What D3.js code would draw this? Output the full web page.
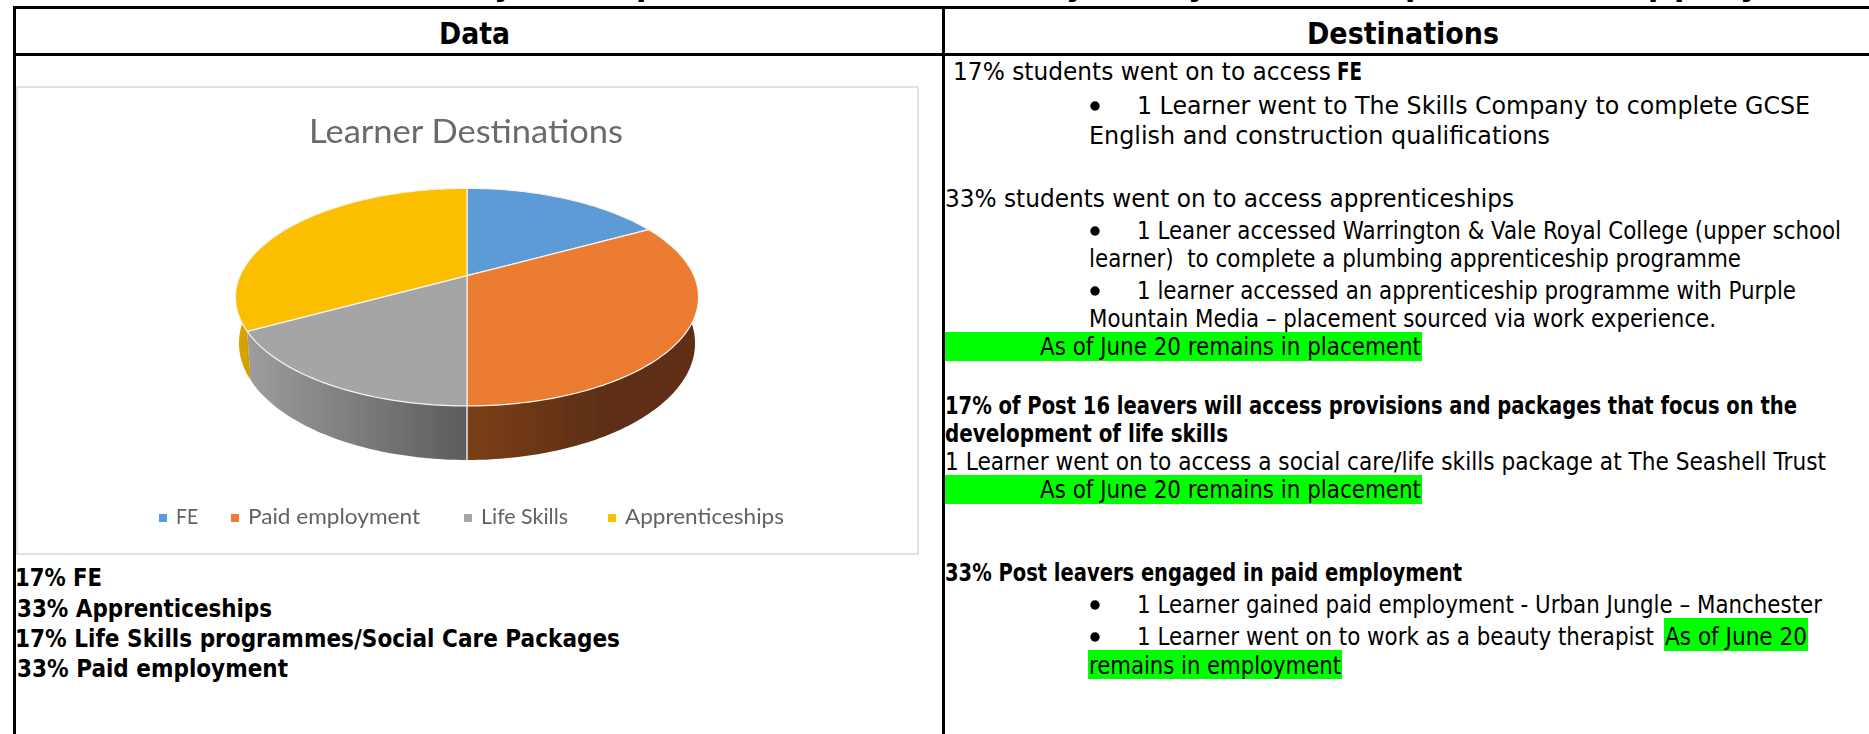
<!DOCTYPE html>
<html>
<head>
<meta charset="utf-8">
<script src="https://cdn.jsdelivr.net/npm/d3@7"></script>
<style>
html, body { margin: 0; padding: 0; background: #fff; overflow: hidden; }
svg { display: block; }
</style>
</head>
<body>
<div id="chart"></div>
<script>
//Width and height
var w = 1869;
var h = 734;

//Dataset
var categories = ["FE", "Paid employment", "Life Skills", "Apprenticeships"];
var values = [17, 33, 17, 33];
var topColors = ["#5b9bd5", "#eb7b31", "#a5a5a5", "#fcbf00"];
var chartTitle = "Learner Destinations";
var headers = ["Data", "Destinations"];
var dataLines = [
  "17% FE",
  "33% Apprenticeships",
  "17% Life Skills programmes/Social Care Packages",
  "33% Paid employment"
];
var clippedLetters = ["y", "p", "y", "y", "p", "p", "p", "y"];
var destLines = [
  "17% students went on to access",
  "FE",
  "1 Learner went to The Skills Company to complete GCSE",
  "English and construction qualifications",
  "33% students went on to access apprenticeships",
  "1 Leaner accessed Warrington & Vale Royal College (upper school",
  "learner)  to complete a plumbing apprenticeship programme",
  "1 learner accessed an apprenticeship programme with Purple",
  "Mountain Media \u2013 placement sourced via work experience.",
  "As of June 20 remains in placement",
  "17% of Post 16 leavers will access provisions and packages that focus on the",
  "development of life skills",
  "1 Learner went on to access a social care/life skills package at The Seashell Trust",
  "As of June 20 remains in placement",
  "33% Post leavers engaged in paid employment",
  "1 Learner gained paid employment - Urban Jungle \u2013 Manchester",
  "1 Learner went on to work as a beauty therapist",
  "As of June 20",
  "remains in employment"
];

//Layout of the text, same order as the lists: x start, x end, baseline, bold
var destLayout = [
  [953, 1331, 80, 0], [1337, 1362, 80, 1],
  [1137, 1810, 113.5, 0], [1089, 1550, 143.5, 0],
  [945, 1514, 207, 0],
  [1137, 1841, 238.5, 0], [1089, 1741, 267, 0],
  [1137, 1796, 298.5, 0], [1089, 1716, 327, 0],
  [1040, 1421, 354.5, 0],
  [945, 1797, 413.5, 1], [945, 1228, 441.5, 1],
  [945, 1826, 469.5, 0],
  [1040, 1421, 497.5, 0],
  [945, 1462, 580.5, 1],
  [1137, 1822, 613, 0],
  [1137, 1654, 644.5, 0], [1665, 1807, 644.5, 0],
  [1089, 1341, 673.5, 0]
];
var dataLayout = [[15, 102, 586], [17, 272, 617], [15, 620, 647], [17, 288, 677]];
var legendLayout = [[159, 176, 198], [231, 248, 420], [464, 481, 568], [608, 625, 784]];
var clippedX = [500, 642, 1072, 1194, 1411, 1654, 1680, 1746];
var greens = [[945, 1422, 332, 361], [945, 1422, 475, 504], [1664, 1808, 618, 651], [1088, 1342, 650, 679]];
var bullets = [[1095, 106], [1095, 231], [1095, 291], [1095, 605], [1095, 637]];

//Create svg
var svg = d3.select("#chart")
  .append("svg")
  .attr("width", w)
  .attr("height", h);

var defs = svg.append("defs");
defs.append("filter").attr("id", "soft")
  .append("feGaussianBlur").attr("stdDeviation", 0.55);

//Stretches a text to the width it has in the picture
function fitText(sel, x0, x1, y, size, family, weight, fill, text) {
  return sel.append("text")
    .attr("x", x0)
    .attr("y", y)
    .attr("textLength", x1 - x0)
    .attr("lengthAdjust", "spacingAndGlyphs")
    .attr("font-size", size)
    .attr("font-family", family)
    .attr("font-weight", weight)
    .attr("fill", fill)
    .style("white-space", "pre")
    .text(text);
}

var bodyFont = "'DejaVu Sans', sans-serif";

//Table rules
svg.append("g").selectAll("rect")
  .data([[13, 6, w - 13, 3], [13, 53, w - 13, 3], [13, 6, 3, h], [942, 6, 3, h]])
  .enter().append("rect")
  .attr("x", function(d) { return d[0]; })
  .attr("y", function(d) { return d[1]; })
  .attr("width", function(d) { return d[2]; })
  .attr("height", function(d) { return d[3]; })
  .attr("fill", "#000");

//Bits of the title that is cut off above the table
var clipped = svg.append("g");
clippedLetters.forEach(function(t, i) {
  clipped.append("text")
    .attr("x", clippedX[i] - 6)
    .attr("y", -4.5)
    .attr("font-size", 30)
    .attr("font-weight", "bold")
    .attr("font-family", bodyFont)
    .attr("fill", "#000")
    .text(t);
});

//Headers
fitText(svg, 439, 510, 43.5, 30, bodyFont, "bold", "#000", headers[0]);
fitText(svg, 1307, 1499, 43.5, 30, bodyFont, "bold", "#000", headers[1]);

//Chart box
svg.append("rect")
  .attr("x", 16).attr("y", 86)
  .attr("width", 903).attr("height", 469)
  .attr("fill", "#e2e2e2");
svg.append("rect")
  .attr("x", 18).attr("y", 88)
  .attr("width", 899).attr("height", 465)
  .attr("fill", "#fff");

var chart = svg.append("g").attr("filter", "url(#soft)");

fitText(chart, 309, 623, 143, 32, "Lato, sans-serif", "normal", "#6a6a6a", chartTitle);

//Pie angles
var pie = d3.pie().sort(null).value(function(d) { return d; });
var arcs = pie(values);

//Perspective of the tilted pie
var cx = 467, apexY = 275.7;
var persp = 0.197, rimX = 227, rimY = 104.6;
var wallScaleX = 0.985, wallScaleY = 1.072, wallDrop = 44.6;

function project(a) {
  var X = Math.sin(a), Y = -Math.cos(a);
  var k = 1 - persp * Y;
  return [rimX * X / k, rimY * Y / k];
}
function topPoint(a) {
  var p = project(a);
  return [cx + p[0], apexY + p[1]];
}
function wallPoint(a) {
  var p = project(a);
  return [cx + p[0] * wallScaleX, apexY + p[1] * wallScaleY + wallDrop];
}
function sweep(a0, a1) {
  var n = Math.max(2, Math.ceil((a1 - a0) / 0.02));
  return d3.range(n + 1).map(function(i) { return a0 + (a1 - a0) * i / n; });
}
var line = d3.line();

//Wall shading
var wallShades = [
  null,
  ["#7a3f18", "#5e2f12"],
  ["#9c9c9c", "#5c5c5c"],
  ["#dfa800", "#c99a00"]
];
var wallStops = [null, [467, 600], [250, 467], [235, 255]];
wallShades.forEach(function(s, i) {
  if (!s) return;
  var g = defs.append("linearGradient")
    .attr("id", "wall" + i)
    .attr("gradientUnits", "userSpaceOnUse")
    .attr("x1", wallStops[i][0]).attr("x2", wallStops[i][1])
    .attr("y1", 0).attr("y2", 0);
  g.append("stop").attr("offset", 0).attr("stop-color", s[0]);
  g.append("stop").attr("offset", 1).attr("stop-color", s[1]);
});

//Walls, the top face is painted over their hidden part
arcs.forEach(function(d, i) {
  if (!wallShades[i]) return;
  var a = sweep(d.startAngle, d.endAngle);
  chart.append("path")
    .attr("d", line(a.map(topPoint).concat(a.slice().reverse().map(wallPoint))) + "Z")
    .attr("fill", "url(#wall" + i + ")");
});
chart.append("path")
  .attr("d", line([topPoint(Math.PI), wallPoint(Math.PI)]))
  .attr("stroke", "#e8e8e8")
  .attr("stroke-width", 1.5);

//Top face
arcs.forEach(function(d, i) {
  var a = sweep(d.startAngle, d.endAngle);
  chart.append("path")
    .attr("d", line([[cx, apexY]].concat(a.map(topPoint))) + "Z")
    .attr("fill", topColors[i])
    .attr("stroke", "#f4f4f4")
    .attr("stroke-width", 1.2)
    .attr("stroke-linejoin", "round");
});

//Legend
categories.forEach(function(c, i) {
  var l = legendLayout[i];
  chart.append("rect")
    .attr("x", l[0]).attr("y", 514)
    .attr("width", 8).attr("height", 8)
    .attr("fill", topColors[i]);
  fitText(chart, l[1], l[2], 524, 22, "Lato, sans-serif", "normal", "#626262", c);
});

//Data list under the chart
dataLines.forEach(function(t, i) {
  var l = dataLayout[i];
  fitText(svg, l[0], l[1], l[2], 24, bodyFont, "bold", "#000", t);
});

//Green highlights
svg.append("g").selectAll("rect")
  .data(greens)
  .enter().append("rect")
  .attr("x", function(d) { return d[0]; })
  .attr("y", function(d) { return d[2]; })
  .attr("width", function(d) { return d[1] - d[0]; })
  .attr("height", function(d) { return d[3] - d[2]; })
  .attr("fill", "#00ff00");

//Bullets
svg.append("g").selectAll("circle")
  .data(bullets)
  .enter().append("circle")
  .attr("cx", function(d) { return d[0]; })
  .attr("cy", function(d) { return d[1]; })
  .attr("r", 4.7)
  .attr("fill", "#000");

//Destination text
destLines.forEach(function(t, i) {
  var l = destLayout[i];
  fitText(svg, l[0], l[1], l[2], 24, bodyFont, l[3] ? "bold" : "normal", "#000", t);
});
</script>
</body>
</html>
